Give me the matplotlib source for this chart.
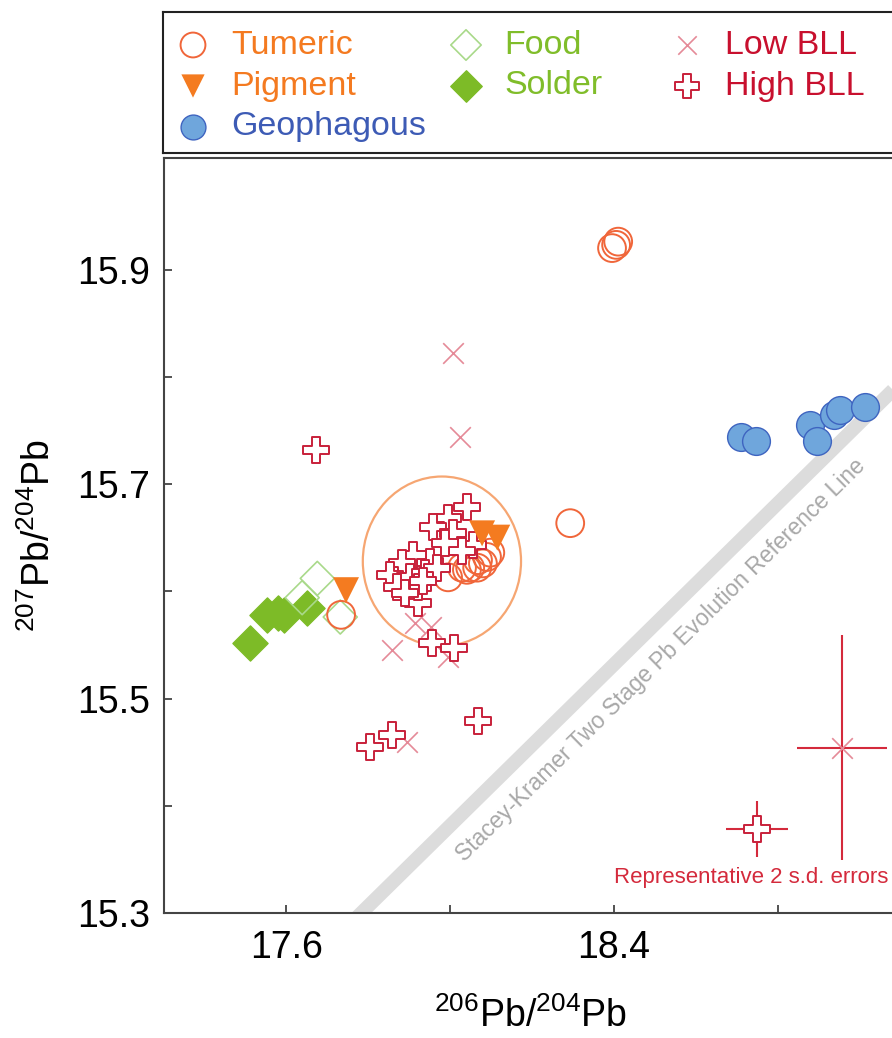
import math
import matplotlib
matplotlib.use("Agg")
import matplotlib.pyplot as plt
from matplotlib.patches import Ellipse
from matplotlib.ticker import FixedLocator, NullFormatter

plt.rcParams['font.family'] = ['Liberation Sans', 'DejaVu Sans']
plt.rcParams['mathtext.default'] = 'regular'

# ---- data (206Pb/204Pb, 207Pb/204Pb) ----
tumeric_x = [18.395, 18.405, 18.410, 18.293, 17.734,
             17.995, 18.029, 18.049, 18.066, 18.080, 18.090, 18.098, 18.068, 18.041]
tumeric_y = [15.920, 15.923, 15.926, 15.6635, 15.578,
             15.613, 15.622, 15.622, 15.622, 15.626, 15.632, 15.636, 15.629, 15.620]

pigment_x = [17.746, 18.078, 18.115]
pigment_y = [15.601, 15.654, 15.650]

geo_x = [18.710, 18.746, 18.878, 18.895, 18.937, 18.951, 19.012]
geo_y = [15.744, 15.740, 15.755, 15.740, 15.764, 15.769, 15.772]

food_x = [17.676, 17.639, 17.732]
food_y = [15.612, 15.594, 15.576]

solder_x = [17.512, 17.554, 17.580, 17.595, 17.651]
solder_y = [15.552, 15.578, 15.580, 15.578, 15.584]

low_x = [18.007, 18.024, 17.915, 17.954, 17.859, 17.995, 17.895]
low_y = [15.822, 15.744, 15.570, 15.567, 15.545, 15.539, 15.459]

high_x = [17.673, 18.068, 17.805, 17.859, 17.956, 18.010,
          18.041, 17.995, 17.959, 18.007, 18.056, 18.029, 17.988, 17.951, 17.910,
          17.883, 17.854, 17.902, 17.939, 17.968, 17.922, 17.922, 17.871, 17.890, 17.934]
high_y = [15.732, 15.479, 15.455, 15.466, 15.552, 15.547,
          15.679, 15.668, 15.660, 15.654, 15.643, 15.638, 15.645, 15.627, 15.634,
          15.626, 15.615, 15.613, 15.617, 15.622, 15.589, 15.604, 15.604, 15.598, 15.610]

# representative 2 s.d. errors
rep_high = (18.749, 15.378, 0.076, 0.026)  # x, y, xerr, yerr
rep_low = (18.956, 15.454, 0.109, 0.105)

# Stacey-Kramer reference line end points
sk_x = [17.77, 19.10]
sk_y = [15.295, 15.795]

# ellipse around the main cluster: centre, width, height
ell_center = (17.980, 15.628)
ell_w, ell_h = 0.386, 0.158

styles = {
    'Tumeric': dict(marker='o', s=400, facecolors='none', edgecolors='#f0663a', linewidths=1.4),
    'Pigment': dict(marker='v', s=350, facecolors='#f47b20', edgecolors='none'),
    'Geophagous': dict(marker='o', s=400, facecolors='#6fa6dc', edgecolors='#3e64c0', linewidths=1.0),
    'Food': dict(marker='D', s=300, facecolors='none', edgecolors='#a9d98a', linewidths=1.2),
    'Solder': dict(marker='D', s=320, facecolors='#7dbb27', edgecolors='#7dbb27'),
    'Low BLL': dict(marker='x', s=220, c='#e58a98', linewidths=1.2),
    'High BLL': dict(marker='P', s=350, facecolors='white', edgecolors='#c8203a', linewidths=1.4),
}
text_colors = {'Tumeric': '#f47a20', 'Pigment': '#f47a20', 'Geophagous': '#3d5bb5',
               'Food': '#80bd2a', 'Solder': '#80bd2a', 'Low BLL': '#c8102e', 'High BLL': '#c8102e'}

fig = plt.figure(figsize=(8.92, 10.38), dpi=100)
ax = fig.add_axes([164 / 892, 1 - 913 / 1038, 728 / 892, 755 / 1038])
ax.set_xlim(17.302, 19.078)
ax.set_ylim(15.3, 16.004)

# reference line with its label
ax.plot(sk_x, sk_y, color='#dcdcdc', lw=10, solid_capstyle='butt', zorder=1)
p1 = ax.transData.transform((sk_x[0], sk_y[0]))
p2 = ax.transData.transform((sk_x[1], sk_y[1]))
ang = math.degrees(math.atan2(p2[1] - p1[1], p2[0] - p1[0]))
ax.text(18.515, 15.536, 'Stacey-Kramer Two Stage Pb Evolution Reference Line',
        rotation=ang, rotation_mode='anchor', ha='center', va='center',
        color='#a8a8a8', fontsize=16.5, zorder=1)

ax.add_patch(Ellipse(ell_center, ell_w, ell_h, fill=False, ec='#f6a672', lw=1.6, zorder=2))

ax.scatter(geo_x, geo_y, zorder=3, **styles['Geophagous'])
ax.scatter(solder_x, solder_y, zorder=3, **styles['Solder'])
ax.scatter(food_x, food_y, zorder=4, **styles['Food'])
ax.scatter(low_x, low_y, zorder=4, **styles['Low BLL'])
ax.scatter(tumeric_x, tumeric_y, zorder=5, **styles['Tumeric'])
ax.scatter(high_x, high_y, zorder=6, **styles['High BLL'])
ax.scatter(pigment_x, pigment_y, zorder=7, **styles['Pigment'])

# representative errors
for (x, y, xe, ye), name in [(rep_high, 'High BLL'), (rep_low, 'Low BLL')]:
    ax.errorbar([x], [y], xerr=[xe], yerr=[ye], fmt='none', ecolor='#d42a3c',
                elinewidth=1.5, capsize=0, zorder=5)
    ax.scatter([x], [y], zorder=6, **styles[name])
ax.text(19.068, 15.3335, 'Representative 2 s.d. errors', ha='right', va='center',
        color='#d42a3c', fontsize=16)

# axes styling
for side in ['left', 'bottom', 'top']:
    ax.spines[side].set_color('#444444')
    ax.spines[side].set_linewidth(1.5)
ax.spines['right'].set_visible(False)
ax.xaxis.set_major_locator(FixedLocator([17.6, 18.4]))
ax.xaxis.set_minor_locator(FixedLocator([18.0, 18.8]))
ax.yaxis.set_major_locator(FixedLocator([15.3, 15.5, 15.7, 15.9]))
ax.yaxis.set_minor_locator(FixedLocator([15.4, 15.6, 15.8]))
ax.xaxis.set_minor_formatter(NullFormatter())
ax.yaxis.set_minor_formatter(NullFormatter())
ax.tick_params(which='both', direction='in', length=6, width=1.3, color='#444444',
               labelsize=27, top=False, right=False)
ax.tick_params(axis='x', which='both', pad=12)
ax.tick_params(axis='y', which='both', pad=10)
ax.set_xlabel(r'$^{206}$Pb/$^{204}$Pb', fontsize=27)
ax.set_ylabel(r'$^{207}$Pb/$^{204}$Pb', fontsize=27)
ax.xaxis.set_label_coords(0.503, -0.112)
ax.yaxis.set_label_coords(-0.145, 0.5)

# legend box drawn by hand (pixel-like units)
lax = fig.add_axes([163 / 892, 1 - 153 / 1038, 1 - 163 / 892 + 0.05, 141 / 1038])
lax.set_xlim(163, 163 + (1 - 163 / 892 + 0.05) * 892)
lax.set_ylim(153, 12)
lax.set_xticks([])
lax.set_yticks([])
for side in lax.spines.values():
    side.set_linewidth(1.5)
    side.set_color('#222222')
col_x = [193, 466, 687]
row_y = [45, 86, 127]
text_dx = 38
legend_layout = [['Tumeric', 'Pigment', 'Geophagous'], ['Food', 'Solder'], ['Low BLL', 'High BLL']]
for ci, names in enumerate(legend_layout):
    for ri, name in enumerate(names):
        st = dict(styles[name])
        st['s'] = st['s'] * 0.8
        lax.scatter([col_x[ci]], [row_y[ri]], clip_on=False, **st)
        lax.text(col_x[ci] + text_dx, row_y[ri], name, va='center', ha='left',
                 color=text_colors[name], fontsize=24.5)

fig.savefig('out.png', dpi=100)
